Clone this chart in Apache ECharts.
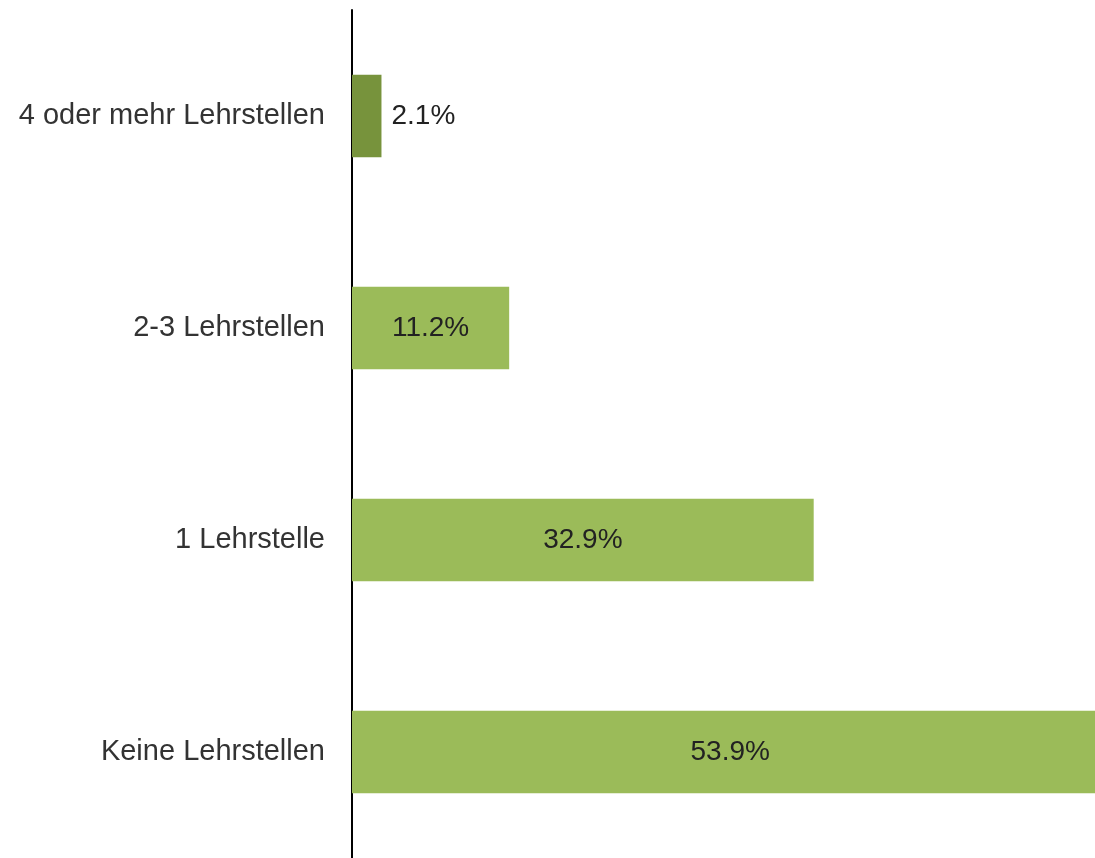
<!DOCTYPE html>
<html><head><meta charset="utf-8">
<script src="https://cdn.jsdelivr.net/npm/echarts@6/dist/echarts.min.js"></script>
<style>html,body{margin:0;padding:0;background:#fff}#c{width:1095px;height:858px}</style>
</head><body><div id="c"></div>
<script>
var categories = ['Keine Lehrstellen', '1 Lehrstelle', '2-3 Lehrstellen', '4 oder mehr Lehrstellen'];
var values = [53.9, 32.9, 11.2, 2.1];
var barColors = ['#9BBB59', '#9BBB59', '#9BBB59', '#77933C'];
var labelPositions = ['inside', 'inside', 'inside', 'right'];

var chart = echarts.init(document.getElementById('c'));
chart.setOption({
  animation: false,
  grid: {left: 352, top: 10, height: 848, width: 842, outerBoundsMode: 'none', containLabel: false},
  xAxis: {type: 'value', min: 0, max: 60, show: false},
  yAxis: {
    type: 'category', data: categories,
    axisLine: {show: true, lineStyle: {color: '#000', width: 2}},
    axisTick: {show: false},
    axisLabel: {fontFamily: 'Liberation Sans, Arial', fontSize: 29, color: '#333', margin: 27}
  },
  series: [{
    type: 'bar', barWidth: '39%',
    data: values.map(function (v, i) {
      return {value: v, itemStyle: {color: barColors[i]},
        label: {position: labelPositions[i]}};
    }),
    label: {show: true, fontFamily: 'Liberation Sans, Arial', fontSize: 28, color: '#222', distance: 10,
      formatter: function (p) { return p.value.toFixed(1) + '%'; }}
  }]
});
</script></body></html>
